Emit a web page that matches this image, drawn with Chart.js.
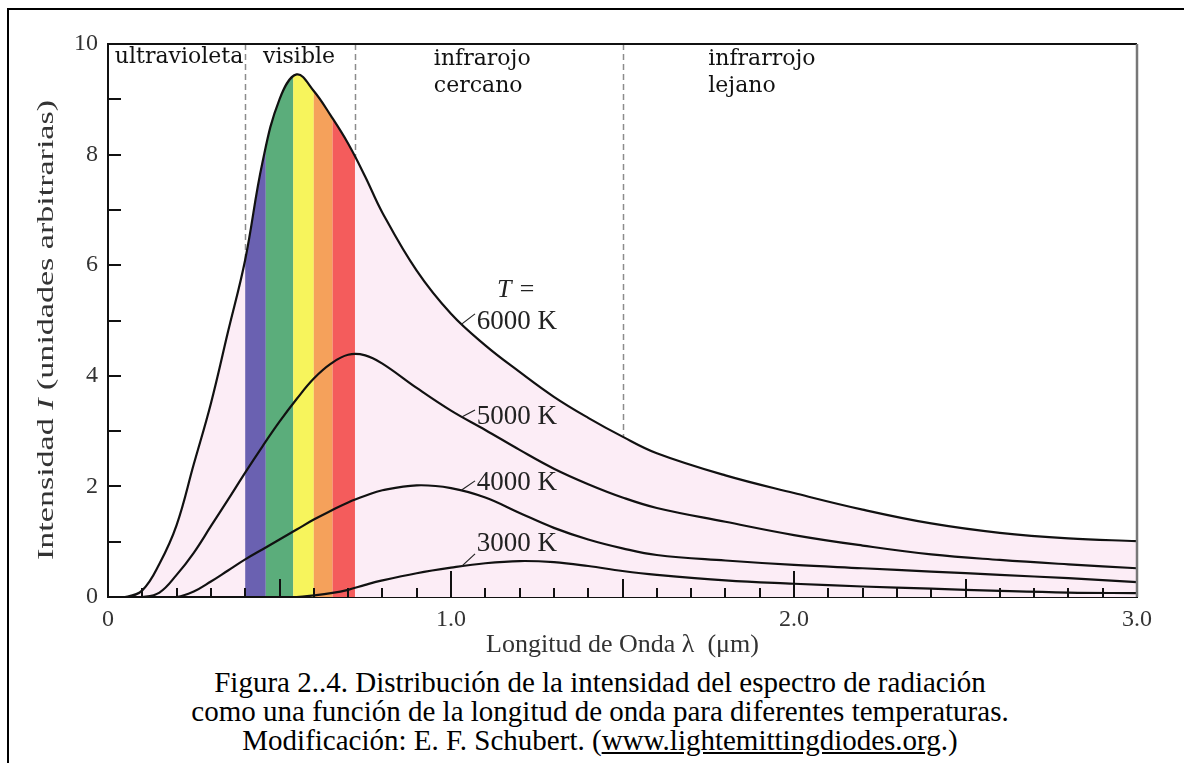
<!DOCTYPE html>
<html lang="es">
<head>
<meta charset="utf-8">
<title>Espectro de radiación</title>
<script src="https://cdn.jsdelivr.net/npm/chart.js@4.4.1/dist/chart.umd.min.js"></script>
<style>
body { margin:0; background:#fff; width:1184px; height:763px; overflow:hidden; position:relative; }
.marco { position:absolute; left:7px; top:8px; width:1200px; height:800px; border-top:2px solid #000; border-left:2px solid #000; }
#grafico { position:absolute; left:0; top:0; }
.pie { position:absolute; left:16px; width:1168px; top:668px; text-align:center;
       font:29px/29px "Liberation Serif", "Times New Roman", serif; color:#000; }
</style>
</head>
<body>
<div class="marco"></div>
<canvas id="grafico" width="1184" height="665"></canvas>
<div class="pie">Figura 2..4. Distribución de la intensidad del espectro de radiación<br>como una función de la longitud de onda para diferentes temperaturas.<br>Modificación: E. F. Schubert. (<u>www.lightemittingdiodes.org</u>.)</div>

<script>
// longitud de onda (µm)
const lambda = [0, 0.05, 0.1, 0.15, 0.2, 0.25, 0.3, 0.35, 0.4, 0.45, 0.5, 0.55, 0.6, 0.65, 0.7, 0.75, 0.8, 0.9,
                1.0, 1.1, 1.2, 1.3, 1.4, 1.5, 1.6, 1.8, 2.0, 2.2, 2.4, 2.6, 2.8, 3.0];
// intensidad (unidades arbitrarias)
const t6000 = [0, 0, 0.12, 0.6, 1.3, 2.4, 3.5, 4.8, 6.1, 7.85, 9.0, 9.45, 9.15, 8.7, 8.2, 7.6, 6.95, 5.9,
               5.12, 4.55, 4.07, 3.62, 3.24, 2.9, 2.6, 2.2, 1.88, 1.58, 1.33, 1.16, 1.06, 1.01];
const t5000 = [0, 0, 0, 0.08, 0.4, 0.8, 1.28, 1.76, 2.25, 2.72, 3.17, 3.58, 3.95, 4.22, 4.38, 4.37, 4.22, 3.78,
               3.37, 3.02, 2.66, 2.32, 2.04, 1.8, 1.61, 1.36, 1.12, 0.93, 0.77, 0.67, 0.59, 0.52];
const t4000 = [0, 0, 0, 0, 0, 0.1, 0.28, 0.48, 0.68, 0.86, 1.04, 1.22, 1.4, 1.56, 1.71, 1.83, 1.93, 2.02,
               1.97, 1.8, 1.52, 1.25, 1.04, 0.88, 0.76, 0.66, 0.58, 0.52, 0.46, 0.4, 0.34, 0.27];
const t3000 = [0, 0, 0, 0, 0, 0, 0, 0, 0, 0, 0, 0, 0.03, 0.07, 0.13, 0.22, 0.3, 0.43,
               0.53, 0.61, 0.65, 0.63, 0.56, 0.47, 0.4, 0.3, 0.24, 0.19, 0.15, 0.11, 0.08, 0.07];
const temperaturas = ['6000 K', '5000 K', '4000 K', '3000 K'];

// bandas del visible (µm) y sus colores
const bandas = [0.40, 0.46, 0.54, 0.60, 0.655, 0.72];
const coloresBanda = ['#6a61b1', '#5bad7b', '#f7f45c', '#f5a15b', '#f45c5c'];
// limites de las regiones (lineas a trazos)
const limites = [0.40, 0.72, 1.5];
const regiones = [['ultravioleta'], ['visible'], ['infrarojo', 'cercano'], ['infrarrojo', 'lejano']];

const serif = '"Liberation Serif", "Times New Roman", serif';
const serifAncha = '"DejaVu Serif", serif';
const rosa = '#fcedf6';

const serie = v => lambda.map((x, i) => ({x: x, y: v[i]}));

// donde van los textos (en unidades de los ejes)
const posRegiones = [
  {x: 0.02, y: 9.66, align: 'left'},
  {x: 0.557, y: 9.66, align: 'center'},
  {x: 0.95, y: 9.62, align: 'left'},
  {x: 1.75, y: 9.62, align: 'left'}
];
const posTemp = [
  {x: 1.075, y: 4.85, linea: [1.03, 4.93, 1.07, 5.12]},
  {x: 1.075, y: 3.13, linea: [1.03, 3.25, 1.07, 3.38]},
  {x: 1.075, y: 1.93, linea: [1.03, 1.93, 1.07, 2.1]},
  {x: 1.075, y: 0.83, linea: [1.03, 0.55, 1.07, 0.78]}
];

const dibujo = {
  id: 'dibujo',
  beforeDraw(chart) {
    // lineas a trazos, quedan tapadas por el relleno rosa
    const {ctx, chartArea: a, scales: {x}} = chart;
    ctx.save();
    ctx.strokeStyle = '#8c8c8c';
    ctx.lineWidth = 1.5;
    ctx.setLineDash([6, 4]);
    limites.forEach(v => {
      const px = Math.round(x.getPixelForValue(v)) + 0.5;
      ctx.beginPath();
      ctx.moveTo(px, a.top);
      ctx.lineTo(px, a.bottom);
      ctx.stroke();
    });
    ctx.restore();
  },
  beforeDatasetsDraw(chart) {
    // colores del visible, recortados bajo la curva de 6000 K
    const {ctx, chartArea: a, scales: {x}} = chart;
    const linea = chart.getDatasetMeta(0).dataset;
    const pts = linea.points;
    linea.updateControlPoints(a, 'x');
    ctx.save();
    ctx.beginPath();
    linea.path(ctx);
    ctx.lineTo(pts[pts.length - 1].x, a.bottom);
    ctx.lineTo(pts[0].x, a.bottom);
    ctx.closePath();
    ctx.clip();
    for (let i = 0; i < coloresBanda.length; i++) {
      const x0 = x.getPixelForValue(bandas[i]);
      const x1 = x.getPixelForValue(bandas[i + 1]);
      ctx.fillStyle = coloresBanda[i];
      ctx.fillRect(x0, a.top, x1 - x0, a.bottom - a.top);
    }
    ctx.restore();
  },
  afterDatasetsDraw(chart) {
    const {ctx, chartArea: a, scales: {x, y}} = chart;
    ctx.save();
    // marcas hacia dentro
    ctx.strokeStyle = '#111';
    ctx.lineWidth = 2;
    ctx.beginPath();
    for (let k = 1; k < 30; k++) {
      const len = k % 10 === 0 ? 26 : (k % 5 === 0 ? 18 : 9);
      const px = Math.round(x.getPixelForValue(k / 10));
      ctx.moveTo(px, a.bottom);
      ctx.lineTo(px, a.bottom - len);
    }
    for (let k = 1; k < 10; k++) {
      const py = Math.round(y.getPixelForValue(k));
      ctx.moveTo(a.left, py);
      ctx.lineTo(a.left + 13, py);
    }
    ctx.stroke();
    // borde superior y derecho
    ctx.beginPath();
    ctx.moveTo(a.left, a.top);
    ctx.lineTo(a.right, a.top);
    ctx.stroke();
    ctx.strokeStyle = '#777';
    ctx.lineWidth = 2.5;
    ctx.beginPath();
    ctx.moveTo(a.right, a.top);
    ctx.lineTo(a.right, a.bottom);
    ctx.stroke();

    // nombres de las regiones
    ctx.fillStyle = '#111';
    ctx.textBaseline = 'alphabetic';
    ctx.font = '22px ' + serifAncha;
    regiones.forEach((r, i) => {
      const p = posRegiones[i];
      ctx.textAlign = p.align;
      r.forEach((t, j) => ctx.fillText(t, x.getPixelForValue(p.x), y.getPixelForValue(p.y) + j * 27));
    });

    // temperaturas
    ctx.fillStyle = '#222';
    ctx.textAlign = 'left';
    ctx.font = 'italic 26px ' + serif;
    ctx.fillText('T =', x.getPixelForValue(1.134), y.getPixelForValue(5.43));
    ctx.font = '27px ' + serif;
    ctx.lineWidth = 1.2;
    ctx.strokeStyle = '#222';
    temperaturas.forEach((t, i) => {
      const p = posTemp[i];
      const l = p.linea;
      ctx.beginPath();
      ctx.moveTo(x.getPixelForValue(l[0]), y.getPixelForValue(l[1]));
      ctx.lineTo(x.getPixelForValue(l[2]), y.getPixelForValue(l[3]));
      ctx.stroke();
      ctx.fillText(t, x.getPixelForValue(p.x), y.getPixelForValue(p.y));
    });
    ctx.restore();
  },
  afterDraw(chart) {
    // titulo del eje y, con la I en cursiva y estirado como en la figura
    const ctx = chart.ctx;
    const partes = [['Intensidad ', ''], ['I', 'italic '], [' (unidades arbitrarias)', '']];
    ctx.save();
    let w = 0;
    partes.forEach(p => { ctx.font = p[1] + '24px ' + serif; w += ctx.measureText(p[0]).width; });
    ctx.translate(47, 330);
    ctx.rotate(-Math.PI / 2);
    ctx.scale(460 / w, 1);
    ctx.fillStyle = '#333';
    ctx.textBaseline = 'middle';
    ctx.textAlign = 'left';
    let cx = -w / 2;
    partes.forEach(p => {
      ctx.font = p[1] + '24px ' + serif;
      ctx.fillText(p[0], cx, 0);
      cx += ctx.measureText(p[0]).width;
    });
    ctx.restore();
  }
};

const curva = (label, valores, extra) => Object.assign({
  label: label,
  data: serie(valores),
  borderColor: '#111',
  borderWidth: 2.2,
  pointRadius: 0,
  tension: 0.4,
  fill: false
}, extra || {});

Chart.defaults.font.family = serif;

new Chart(document.getElementById('grafico'), {
  type: 'line',
  data: {
    datasets: [
      curva(temperaturas[0], t6000, {fill: 'origin', backgroundColor: rosa}),
      curva(temperaturas[1], t5000),
      curva(temperaturas[2], t4000),
      curva(temperaturas[3], t3000)
    ]
  },
  options: {
    responsive: false,
    animation: false,
    devicePixelRatio: 1,
    layout: { padding: {left: 0, top: 44, right: 47, bottom: 0} },
    plugins: {
      legend: { display: false },
      tooltip: { enabled: false },
      filler: { drawTime: 'beforeDatasetsDraw' }
    },
    scales: {
      x: {
        type: 'linear',
        min: 0,
        max: 3,
        grid: { display: false, drawTicks: false },
        border: { display: true, color: '#111', width: 2 },
        ticks: {
          stepSize: 1,
          maxRotation: 0,
          padding: 8,
          color: '#333',
          font: { size: 24 },
          callback: v => v === 0 ? '0' : v.toFixed(1)
        },
        title: {
          display: true,
          text: 'Longitud de Onda λ  (μm)',
          color: '#333',
          font: { size: 26 },
          padding: { top: 0, bottom: 4 }
        },
        afterFit: s => { s.height = 68; }
      },
      y: {
        min: 0,
        max: 10,
        grid: { display: false, drawTicks: false },
        border: { display: true, color: '#111', width: 2 },
        ticks: {
          stepSize: 2,
          padding: 10,
          color: '#333',
          font: { size: 24 }
        },
        afterFit: s => { s.width = 108; }
      }
    }
  },
  plugins: [dibujo]
});
</script>
</body>
</html>
